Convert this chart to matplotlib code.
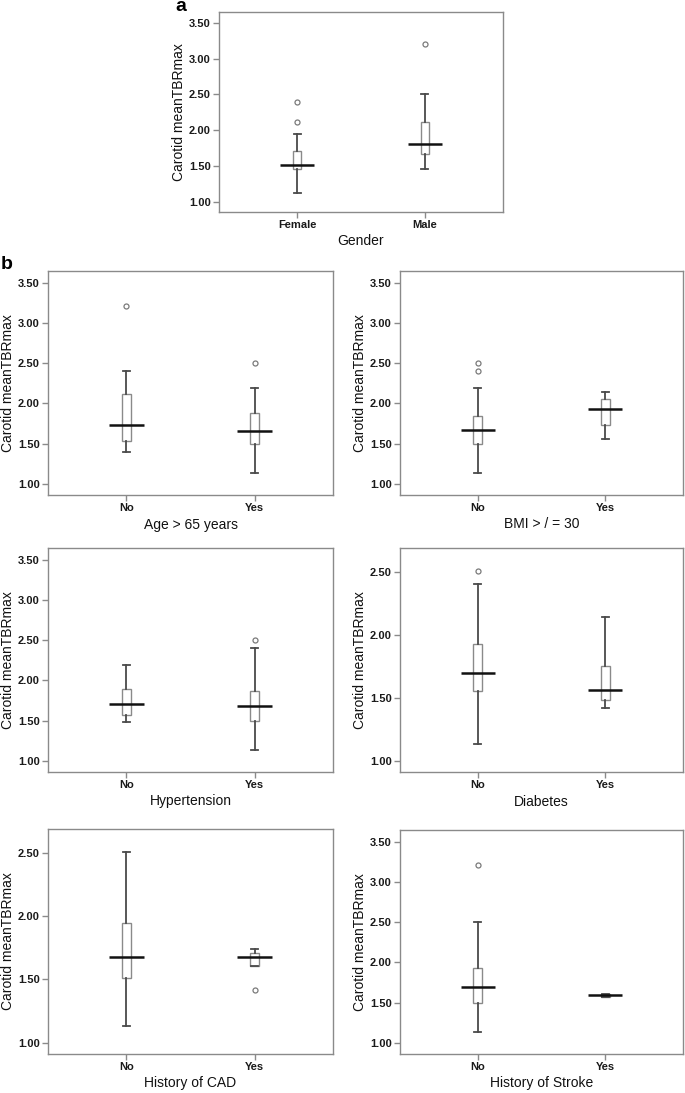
import numpy as np
import matplotlib.pyplot as plt

plt.rcParams['font.family'] = ['Liberation Sans', 'DejaVu Sans']

# Summary values, one entry per panel (group order: first, second)
panel_titles = ["Gender", "Age > 65 years", "BMI > / = 30", "Hypertension",
                "Diabetes", "History of CAD", "History of Stroke"]
group_labels = [["Female", "Male"]] + [["No", "Yes"]] * 6
whisker_low = [[1.13, 1.46], [1.40, 1.13], [1.13, 1.56], [1.48, 1.13],
               [1.13, 1.42], [1.13, 1.61], [1.13, 1.57]]
quartile_1 = [[1.46, 1.67], [1.53, 1.50], [1.50, 1.73], [1.57, 1.50],
              [1.55, 1.48], [1.51, 1.61], [1.50, 1.57]]
medians = [[1.51, 1.81], [1.73, 1.66], [1.67, 1.93], [1.71, 1.68],
           [1.70, 1.56], [1.68, 1.68], [1.69, 1.59]]
quartile_3 = [[1.71, 2.12], [2.12, 1.88], [1.85, 2.05], [1.90, 1.87],
              [1.93, 1.75], [1.95, 1.71], [1.93, 1.61]]
whisker_high = [[1.95, 2.51], [2.40, 2.19], [2.19, 2.14], [2.19, 2.40],
                [2.40, 2.14], [2.51, 1.74], [2.51, 1.61]]
outliers = [[[2.12, 2.40], [3.21]], [[3.21], [2.51]], [[2.40, 2.51], []],
            [[], [2.51]], [[2.51], []], [[], [1.42]], [[3.21], []]]

# layout: axes boxes in pixels (left, top, right, bottom)
W, H = 685, 1093
rects = [(219, 12, 503, 212),
         (48, 271, 333, 495), (400, 271, 683, 495),
         (48, 548, 333, 772), (400, 548, 683, 772),
         (48, 829, 333, 1054), (400, 830, 683, 1054)]
short_axis = [False, False, False, False, True, True, False]

fig = plt.figure(figsize=(W / 100, H / 100), dpi=100)
edge_grey = '#8a8a8a'
whisk_col = '#4a4a4a'

for i, (l, t, r, b) in enumerate(rects):
    ax = fig.add_axes([l / W, 1 - b / H, (r - l) / W, (b - t) / H])
    stats = []
    for j in range(2):
        stats.append(dict(whislo=whisker_low[i][j], q1=quartile_1[i][j],
                          med=medians[i][j], q3=quartile_3[i][j],
                          whishi=whisker_high[i][j], fliers=outliers[i][j]))
    pos = np.arange(2)
    ax.bxp(stats, positions=pos, widths=0.068, capwidths=0.055, patch_artist=True,
           boxprops=dict(facecolor='white', edgecolor=edge_grey, linewidth=1.0),
           whiskerprops=dict(color=whisk_col, linewidth=1.3),
           capprops=dict(color=whisk_col, linewidth=1.3),
           medianprops=dict(linewidth=0),
           flierprops=dict(marker='o', markersize=3.6, markerfacecolor='white',
                           markeredgecolor='#7a7a7a', markeredgewidth=0.9))
    ax.hlines(medians[i], pos - 0.135, pos + 0.135, colors='#111111', linewidth=1.8, zorder=5)

    ax.set_xlim(-0.61, 1.61)
    if short_axis[i]:
        ax.set_ylim(0.91, 2.69)
        ticks = [1.0, 1.5, 2.0, 2.5]
    else:
        ax.set_ylim(0.86, 3.65)
        ticks = [1.0, 1.5, 2.0, 2.5, 3.0, 3.5]
    ax.set_yticks(ticks)
    ax.set_yticklabels([f"{v:.2f}" for v in ticks], fontsize=8, fontweight='bold', color='#1a1a1a')
    ax.set_xticks(pos)
    ax.set_xticklabels(group_labels[i], fontsize=8, fontweight='bold', color='#1a1a1a')
    ax.tick_params(length=4, width=1, color=edge_grey, pad=2)
    for s in ax.spines.values():
        s.set_color(edge_grey)
        s.set_linewidth(1.0)
    ax.set_xlabel(panel_titles[i], fontsize=10, color='#111111', labelpad=3)
    ax.set_ylabel("Carotid meanTBRmax", fontsize=10, color='#111111', labelpad=2)

fig.text(175 / W, 1 + 2 / H, "a", fontsize=14, fontweight='bold', va='top', ha='left')
fig.text(1 / W, 1 - 256 / H, "b", fontsize=14, fontweight='bold', va='top', ha='left')

fig.savefig("out.png", dpi=100)
